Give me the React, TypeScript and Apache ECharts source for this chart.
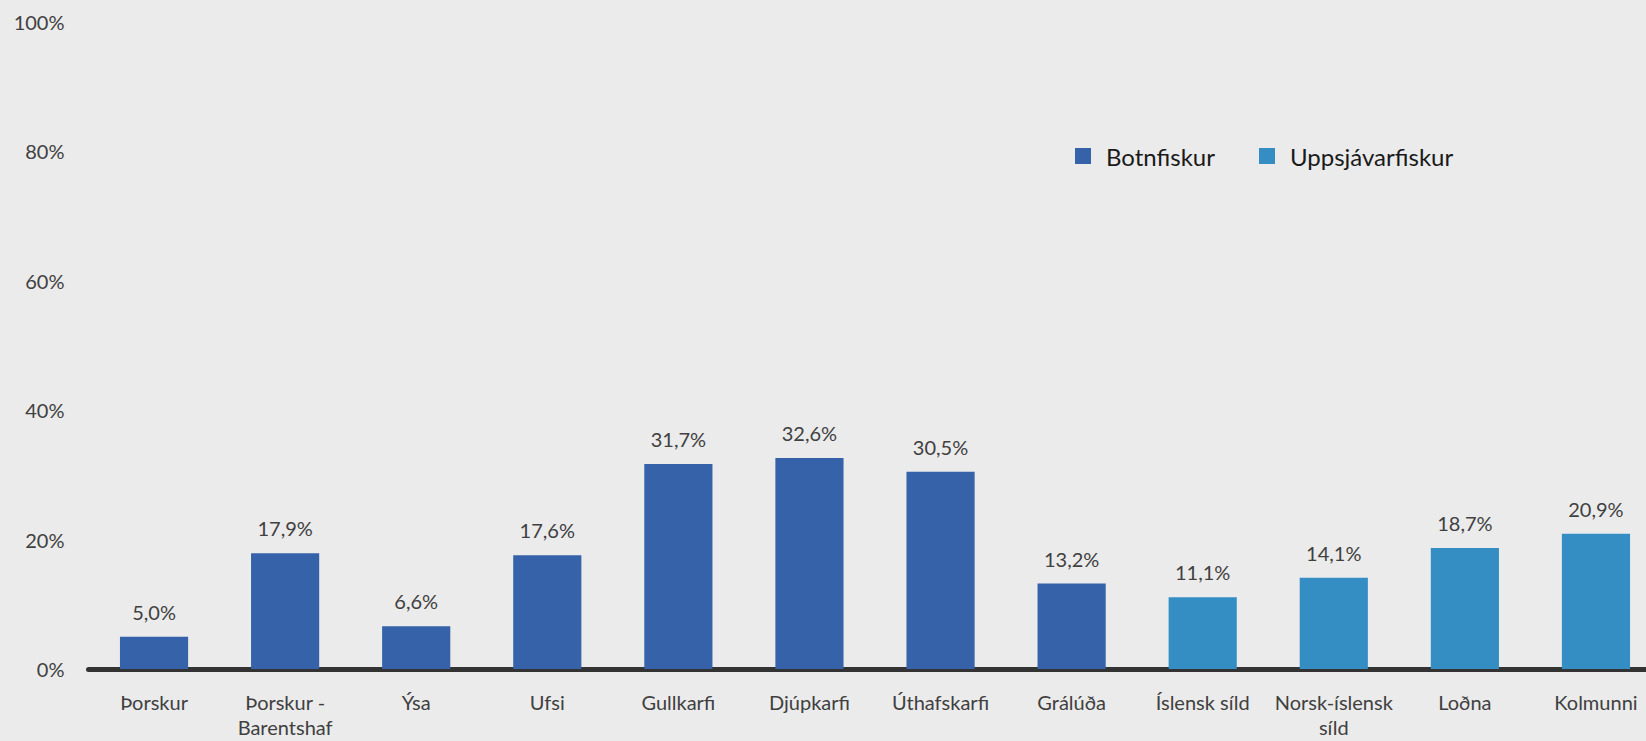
import React, { useEffect, useRef } from "react";
import * as echarts from "echarts";

const categories = [
  "Þorskur",
  "Þorskur -\nBarentshaf",
  "Ýsa",
  "Ufsi",
  "Gullkarfi",
  "Djúpkarfi",
  "Úthafskarfi",
  "Grálúða",
  "Íslensk síld",
  "Norsk-íslensk\nsíld",
  "Loðna",
  "Kolmunni",
];

const botnfiskur = [5.0, 17.9, 6.6, 17.6, 31.7, 32.6, 30.5, 13.2, "-", "-", "-", "-"];
const uppsjavarfiskur = ["-", "-", "-", "-", "-", "-", "-", "-", 11.1, 14.1, 18.7, 20.9];

const yTicks = { min: 0, max: 100, interval: 20 };

const fmt = (v: number) => v.toFixed(1).replace(".", ",") + "%";

export default function App() {
  const ref = useRef<HTMLDivElement>(null);
  useEffect(() => {
    document.body.style.margin = "0";
    const chart = echarts.init(ref.current!, null, { renderer: "svg" });
    const font = "Lato, 'Open Sans', sans-serif";
    const labelStyle = {
      show: true,
      position: "top" as const,
      distance: 15,
      fontSize: 20,
      fontFamily: font,
      color: "#404040",
      formatter: (p: any) => fmt(Number(p.value)),
    };
    chart.setOption({
      animation: false,
      backgroundColor: "#EBEBEB",
      textStyle: { fontFamily: font },
      grid: {
        left: 88.5,
        top: 22,
        width: 1573,
        height: 647,
        containLabel: false,
        outerBoundsMode: "none",
      },
      legend: {
        left: 1070,
        top: 139,
        itemWidth: 16,
        itemHeight: 16,
        itemGap: 44,
        icon: "rect",
        textStyle: { fontSize: 24, color: "#1a1a1a", fontFamily: font, padding: [0, 0, 0, 10] },
        data: ["Botnfiskur", "Uppsjávarfiskur"],
      },
      xAxis: {
        type: "category",
        data: categories,
        axisLine: { show: true, lineStyle: { color: "#333333", width: 5 } },
        axisTick: { show: false },
        axisLabel: {
          interval: 0,
          fontSize: 20,
          lineHeight: 25,
          margin: 20,
          color: "#404040",
          fontFamily: font,
        },
      },
      yAxis: {
        type: "value",
        min: yTicks.min,
        max: yTicks.max,
        interval: yTicks.interval,
        splitLine: { show: false },
        axisLine: { show: false },
        axisTick: { show: false },
        axisLabel: {
          formatter: "{value}%",
          fontSize: 20,
          margin: 24,
          color: "#404040",
          fontFamily: font,
        },
      },
      series: [
        {
          name: "Botnfiskur",
          type: "bar",
          data: botnfiskur,
          barWidth: "52%",
          barGap: "-100%",
          itemStyle: { color: "#3562A9" },
          label: labelStyle,
        },
        {
          name: "Uppsjávarfiskur",
          type: "bar",
          data: uppsjavarfiskur,
          barWidth: "52%",
          itemStyle: { color: "#348EC4" },
          label: labelStyle,
        },
      ],
    });
    return () => chart.dispose();
  }, []);
  return (
    <div
      ref={ref}
      style={{ position: "fixed", left: 0, top: 0, width: 1646, height: 741, overflow: "hidden" }}
    />
  );
}
